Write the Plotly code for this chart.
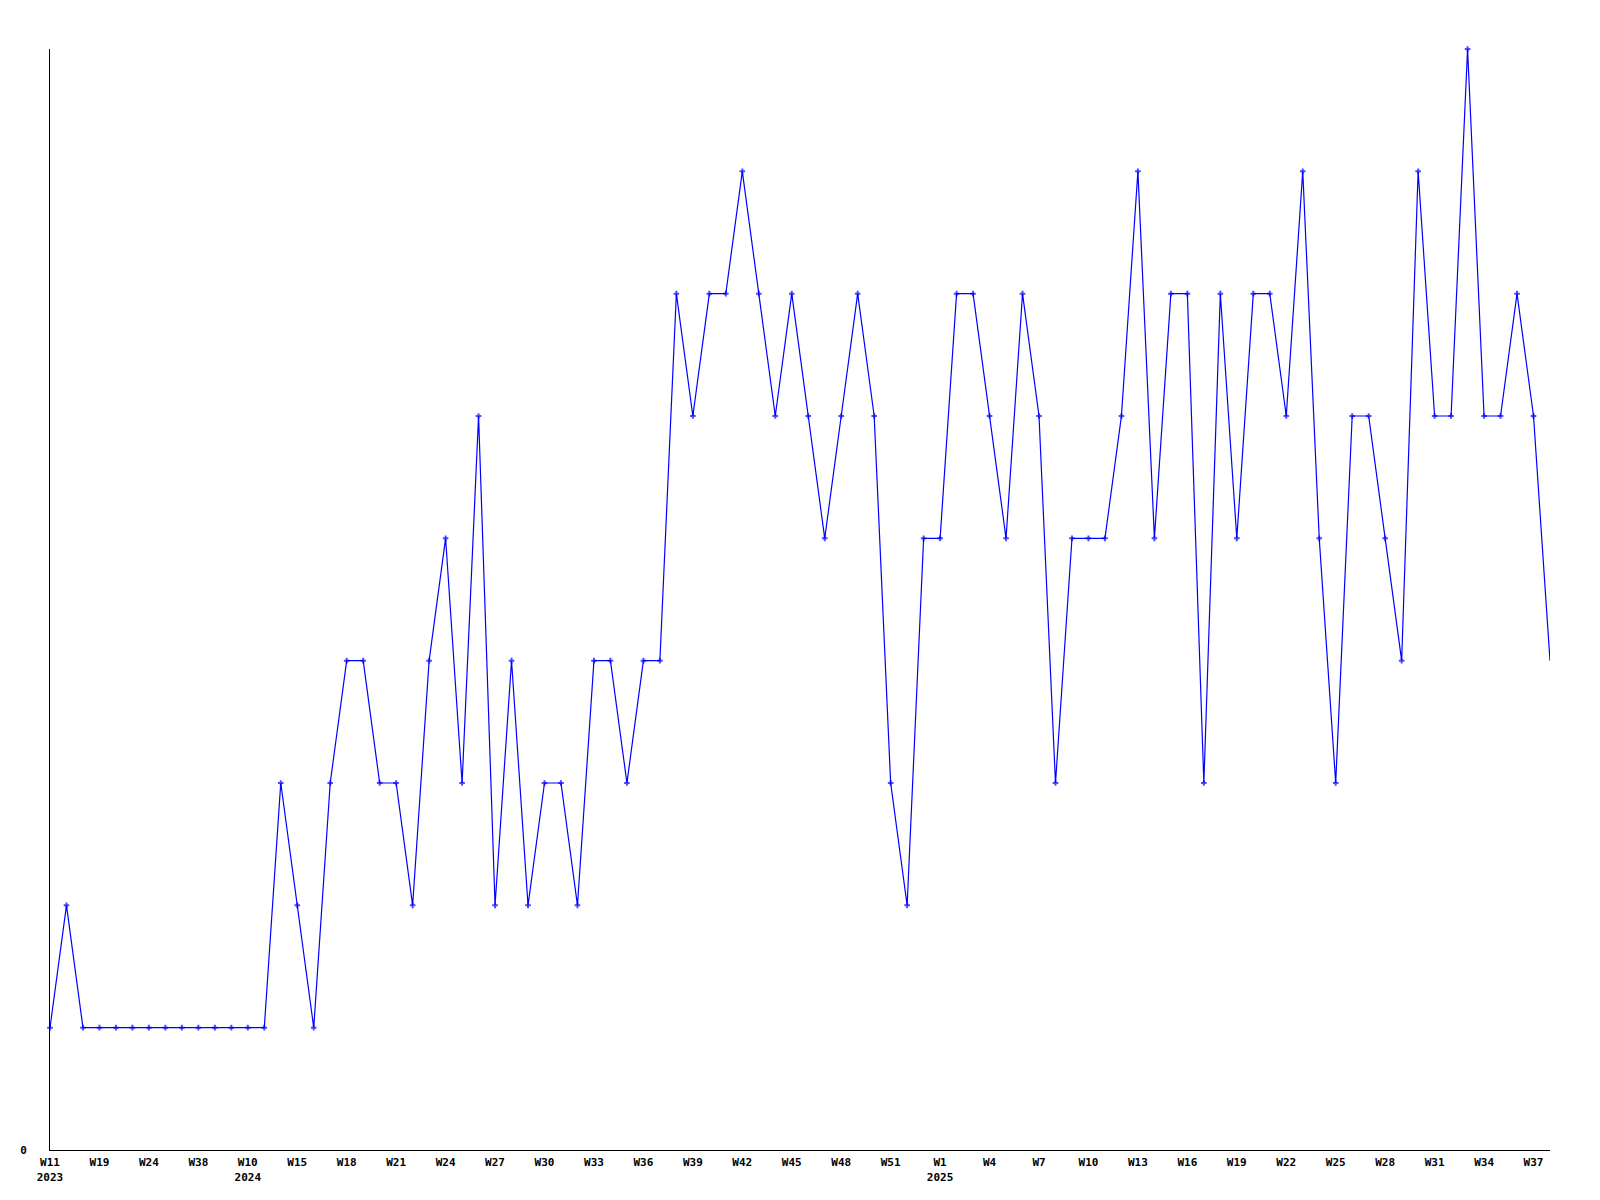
import plotly.graph_objects as go

# weekly counts, one point per week bucket
counts = [
    1, 2, 1, 1, 1, 1, 1, 1, 1, 1, 1, 1, 1, 1, 3, 2, 1,
    3, 4, 4, 3, 3, 2, 4, 5, 3, 6,
    2, 4, 2, 3, 3, 2, 4, 4, 3, 4,
    4, 7, 6, 7, 7, 8, 7, 6, 7, 6,
    5, 6, 7, 6, 3, 2, 5, 5, 7, 7,
    6, 5, 7, 6, 3, 5, 5, 5, 6, 8,
    5, 7, 7, 3, 7, 5, 7, 7, 6, 8,
    5, 3, 6, 6, 5, 4, 8, 6, 6, 9,
    6, 6, 7, 6, 4,
]

# a label on every third week
tick_labels = [
    "W11<br>2023", "W19", "W24", "W38", "W10<br>2024", "W15", "W18", "W21",
    "W24", "W27", "W30", "W33", "W36", "W39", "W42", "W45", "W48", "W51",
    "W1<br>2025", "W4", "W7", "W10", "W13", "W16", "W19", "W22", "W25",
    "W28", "W31", "W34", "W37",
]

x = list(range(len(counts)))
tick_pos = x[::3][:len(tick_labels)]

marker_sizes = [4] * (len(counts) - 1) + [0]

fig = go.Figure()
fig.add_trace(go.Scatter(
    x=x,
    y=counts,
    mode='lines+markers',
    line=dict(color='rgb(0, 0, 255)', width=1.2),
    marker=dict(color='rgb(0, 0, 255)', size=marker_sizes, symbol='cross-thin',
                line=dict(color='rgb(0, 0, 255)', width=2)),
    cliponaxis=False,
    showlegend=False,
    hoverinfo='x+y'
))

# the page body adds 8px, so margins are trimmed to land the axes where they belong
fig.update_layout(
    width=1600,
    height=1200,
    margin=dict(l=42, r=58, t=41, b=58, autoexpand=False),
    paper_bgcolor='white',
    plot_bgcolor='white',
    font=dict(family='DejaVu Sans Mono', size=11, color='black'),
    xaxis=dict(
        range=[0, len(counts) - 1],
        tickvals=tick_pos,
        ticktext=tick_labels,
        tickangle=0,
        showgrid=False,
        zeroline=False,
        showline=True,
        linecolor='black',
        linewidth=1,
        ticks='',
        ticklabelstandoff=2,
        tickfont=dict(family='DejaVu Sans Mono', size=11, weight='bold'),
    ),
    yaxis=dict(
        range=[0, max(counts)],
        tickvals=[0],
        ticktext=['0'],
        showgrid=False,
        zeroline=False,
        showline=True,
        linecolor='black',
        linewidth=1,
        ticks='',
        ticklabelstandoff=20,
        tickfont=dict(family='DejaVu Sans Mono', size=11, weight='bold'),
    ),
)

fig.write_html("out.html")
